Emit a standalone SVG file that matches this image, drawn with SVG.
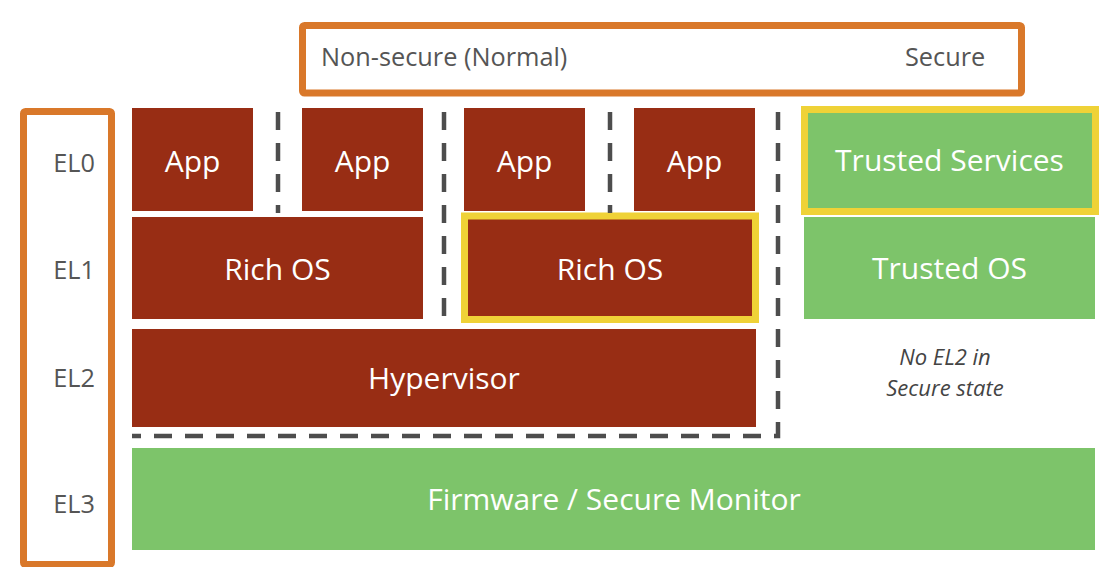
<svg xmlns="http://www.w3.org/2000/svg" width="1108" height="567" viewBox="0 0 1108 567">
<style>
.frame{fill:#ffffff;stroke:#D9782A;stroke-width:7}
.ns{fill:#982D14}
.sec{fill:#7DC46A}
.hl{stroke:#EFD237;stroke-width:7}
.lbl{font-family:"Open Sans","Noto Sans",sans-serif;font-size:30px;fill:#ffffff;text-anchor:middle}
.gray{font-family:"Open Sans","Noto Sans",sans-serif;font-size:25.3px;fill:#555555}
.el{text-anchor:end}
.note{font-family:"Open Sans","Noto Sans",sans-serif;font-size:22px;font-style:italic;fill:#444444;text-anchor:middle}
.dash{fill:none;stroke:#4D4D4D;stroke-width:4.5;stroke-dasharray:18 13}
</style>
<rect width="1108" height="567" fill="#ffffff"/>

<g id="world-header">
<rect class="frame" x="302.5" y="25.5" width="719" height="67.5" rx="2"/>
<text class="gray" x="321" y="66">Non-secure (Normal)</text>
<text class="gray" x="905" y="66">Secure</text>
</g>

<g id="el-column">
<rect class="frame" x="23.5" y="111.5" width="88" height="453" rx="2"/>
<text class="gray el" x="95" y="172">EL0</text>
<text class="gray el" x="95" y="279">EL1</text>
<text class="gray el" x="95" y="387">EL2</text>
<text class="gray el" x="95" y="513">EL3</text>
</g>

<g id="app1"><rect class="ns" x="132" y="108" width="121" height="103"/><text class="lbl" x="192.5" y="171.5">App</text></g>
<g id="app2"><rect class="ns" x="302" y="108" width="121" height="103"/><text class="lbl" x="362.5" y="171.5">App</text></g>
<g id="app3"><rect class="ns" x="464" y="108" width="121" height="103"/><text class="lbl" x="524.5" y="171.5">App</text></g>
<g id="app4"><rect class="ns" x="634" y="108" width="121" height="103"/><text class="lbl" x="694.5" y="171.5">App</text></g>

<g id="rich-os-1"><rect class="ns" x="132" y="217" width="291" height="102"/><text class="lbl" x="277.5" y="279.5">Rich OS</text></g>
<g id="rich-os-2"><rect class="ns hl" x="464.5" y="216" width="291" height="103.5"/><text class="lbl" x="610" y="279.5">Rich OS</text></g>

<g id="hypervisor"><rect class="ns" x="132" y="329" width="624" height="98"/><text class="lbl" x="444" y="389">Hypervisor</text></g>

<g id="trusted-services"><rect class="sec hl" x="804.5" y="109.5" width="291" height="102"/><text class="lbl" x="949.5" y="171">Trusted Services</text></g>
<g id="trusted-os"><rect class="sec" x="804" y="217" width="291" height="102"/><text class="lbl" x="949.5" y="279">Trusted OS</text></g>

<g id="no-el2-note">
<text class="note" x="945" y="365">No EL2 in</text>
<text class="note" x="945" y="396">Secure state</text>
</g>

<g id="firmware"><rect class="sec" x="132" y="448" width="963" height="102"/><text class="lbl" x="614" y="509.5">Firmware / Secure Monitor</text></g>

<g id="connectors">
<line class="dash" x1="278" y1="112" x2="278" y2="213"/>
<line class="dash" x1="444" y1="112" x2="444" y2="318"/>
<line class="dash" x1="610" y1="112" x2="610" y2="213"/>
<path class="dash" d="M778,112 V436 H132"/>
</g>
</svg>
